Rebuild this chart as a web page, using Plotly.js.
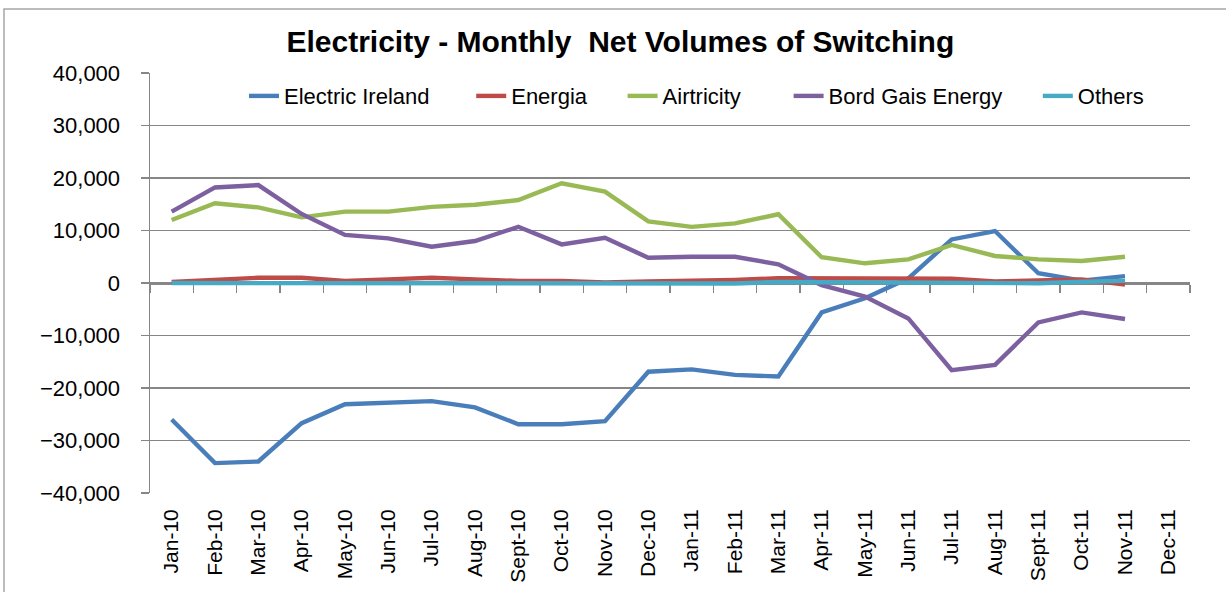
<!DOCTYPE html>
<html>
<head>
<meta charset="utf-8">
<script src="https://cdn.plot.ly/plotly-3.0.1.min.js"></script>
<style>html,body{margin:0;padding:0;background:#fff;}#chart{width:1226px;height:592px;}</style>
</head>
<body>
<div id="chart"></div>
<script>
const months = ["Jan-10","Feb-10","Mar-10","Apr-10","May-10","Jun-10","Jul-10","Aug-10","Sept-10","Oct-10","Nov-10","Dec-10",
                "Jan-11","Feb-11","Mar-11","Apr-11","May-11","Jun-11","Jul-11","Aug-11","Sept-11","Oct-11","Nov-11","Dec-11"];
const electricIreland = [-26000,-34300,-34000,-26700,-23100,-22800,-22500,-23700,-26900,-26900,-26300,-16900,
                         -16450,-17500,-17800,-5600,-2900,900,8300,9900,1850,450,1300,null];
const energia = [200,600,1000,1000,400,700,1000,700,400,400,100,300,
                 400,600,900,900,900,800,800,300,450,700,-300,null];
const airtricity = [12000,15200,14400,12500,13600,13600,14500,14900,15800,19000,17400,11750,
                    10700,11350,13100,4900,3750,4500,7250,5150,4500,4200,5000,null];
const bordGais = [13600,18200,18650,13150,9150,8500,6900,8000,10700,7350,8600,4800,
                  5000,5000,3550,-400,-2600,-6750,-16600,-15600,-7500,-5600,-6850,null];
const others = [0,0,0,0,0,0,0,0,0,0,-100,0,
                100,-100,200,150,100,100,100,-50,-50,250,400,null];

const seriesNames = ["Electric Ireland","Energia","Airtricity","Bord Gais Energy","Others"];
const seriesValues = [electricIreland, energia, airtricity, bordGais, others];
const seriesColors = ["#4a7ebb","#be4b48","#98b954","#7d60a0","#46aac5"];
// trailing non-breaking spaces to reproduce the legend spacing
const legendPad = [6,5,7,5,0];

const FONT = "Liberation Sans, Arial, sans-serif";

const traces = seriesNames.map((n,i)=>({
  type:"scatter", mode:"lines", name:n + "\u00a0".repeat(legendPad[i]), x:months, y:seriesValues[i],
  line:{color:seriesColors[i], width:4.4}, connectgaps:false
}));
traces.push({type:"scatter", mode:"lines", x:months, y:months.map(()=>null),
  xaxis:"x2", showlegend:false, hoverinfo:"skip"});

const layout = {
  width:1226, height:592,
  paper_bgcolor:"#ffffff", plot_bgcolor:"#ffffff",
  margin:{l:150, r:36, t:73, b:99},
  font:{family:FONT, size:22, color:"#000"},
  title:{text:"<b>Electricity - Monthly  Net Volumes of Switching</b>",
    font:{family:FONT, size:30, color:"#000"},
    xref:"container", x:0.506, yref:"container", y:0.93, yanchor:"middle", xanchor:"center"},
  showlegend:true,
  legend:{orientation:"h", x:0.0904, xanchor:"left", y:0.945, yanchor:"middle",
    bgcolor:"rgba(0,0,0,0)", borderwidth:0, font:{family:FONT, size:22, color:"#000"},
    traceorder:"normal"},
  xaxis:{type:"category", categoryorder:"array", categoryarray:months,
    range:[-0.5, 23.5], showgrid:false, zeroline:false, showline:false, ticks:"",
    tickangle:-90, tickfont:{family:FONT, size:21, color:"#000"}, ticklabelstandoff:11,
    automargin:false, fixedrange:true},
  xaxis2:{type:"category", overlaying:"x", matches:"x", anchor:"free", position:0.5,
    showline:true, linecolor:"#868686", linewidth:1.5, ticks:"outside", ticklen:8,
    tickcolor:"#868686", tickwidth:1.5, tickson:"boundaries", showticklabels:false,
    showgrid:false, zeroline:false, layer:"below traces"},
  yaxis:{range:[-40000,40000], dtick:10000, tickformat:",d", showgrid:true,
    gridcolor:"#868686", gridwidth:1.4, zeroline:false, showline:true, linecolor:"#868686",
    linewidth:1.5, ticks:"outside", ticklen:8, tickcolor:"#868686", tickwidth:1.5,
    tickfont:{family:FONT, size:22, color:"#000"}, ticklabelstandoff:16,
    automargin:false, fixedrange:true},
  shapes:[{type:"rect", xref:"paper", yref:"paper",
    x0:(4-150)/1040, x1:(1240-150)/1040, y0:(493-610)/420, y1:(493-9)/420,
    line:{color:"#a6a6a6", width:1.5}, fillcolor:"rgba(0,0,0,0)", layer:"below"}]
};

Plotly.newPlot("chart", traces, layout, {displayModeBar:false, staticPlot:true});
</script>
</body>
</html>
